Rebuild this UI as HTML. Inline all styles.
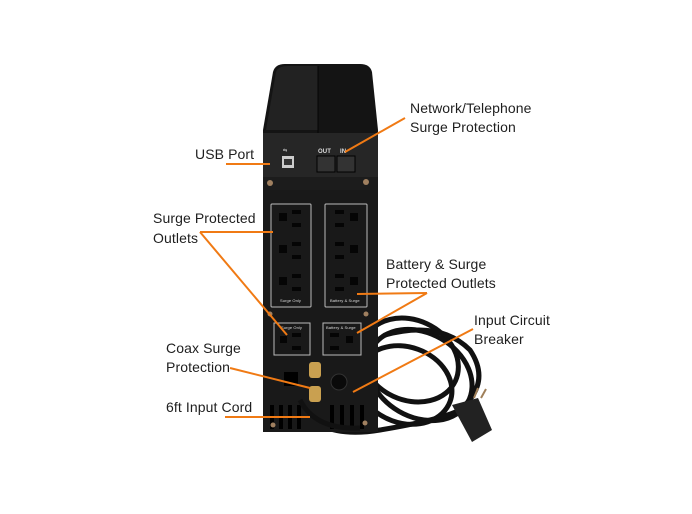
<!DOCTYPE html>
<html><head><meta charset="utf-8"><style>
html,body{margin:0;padding:0;background:#fff}
svg{display:block}
text{font-family:"Liberation Sans",sans-serif;font-size:14px;fill:#1e1e1e;letter-spacing:0.1px;font-weight:500}
</style></head><body>
<svg width="692" height="514" viewBox="0 0 692 514">
<!-- cord loops -->
<g fill="none" stroke="#111" stroke-width="5" stroke-linecap="round">
<ellipse cx="410" cy="360" rx="50" ry="40" transform="rotate(25 410 360)"/>
<ellipse cx="420" cy="375" rx="55" ry="42" transform="rotate(30 420 375)"/>
<ellipse cx="405" cy="385" rx="48" ry="38" transform="rotate(20 405 385)"/>
<path d="M300 405 Q320 440 380 430 Q440 420 460 410"/>
<path d="M385 335 Q440 320 470 350 Q490 380 465 405"/>
</g>
<path d="M452 405 L478 398 L492 430 L472 442 Z" fill="#222"/>
<path d="M474 398 L478 388 M481 398 L486 389" stroke="#a0805a" stroke-width="2"/>
<!-- device body -->
<path d="M273 72 Q275 64 285 64 L360 64 Q370 64 372 72 L378 130 L378 432 L263 432 L263 130 Z" fill="#141414"/>
<path d="M276 72 Q278 66 288 66 L318 66 L318 130 L266 130 Z" fill="#222"/>
<line x1="318" y1="66" x2="318" y2="133" stroke="#050505" stroke-width="1"/>
<rect x="263" y="133" width="115" height="44" fill="#262626"/>
<rect x="263" y="177" width="115" height="13" fill="#1c1c1c"/>
<circle cx="270" cy="183" r="3" fill="#a08060"/><circle cx="366" cy="182" r="3" fill="#a08060"/>
<rect x="263" y="190" width="115" height="242" fill="#191919"/>
<!-- usb -->
<rect x="282" y="156" width="12" height="12" fill="#ccc"/><rect x="284" y="159" width="8" height="6" fill="#333"/>
<text x="283" y="152" style="font-size:5px;fill:#ccc">⇆</text>
<!-- rj ports -->
<text x="318" y="153" style="font-size:6px;fill:#ddd;font-weight:bold">OUT</text>
<text x="340" y="153" style="font-size:6px;fill:#ddd;font-weight:bold">IN</text>
<rect x="317" y="156" width="18" height="16" fill="#333" stroke="#000"/>
<rect x="337" y="156" width="18" height="16" fill="#333" stroke="#000"/>
<!-- outlet panels -->
<g fill="none" stroke="#bbb" stroke-width="1">
<rect x="271" y="204" width="40" height="103" rx="1"/>
<rect x="325" y="204" width="42" height="103" rx="1"/>
<rect x="274" y="323" width="36" height="32"/>
<rect x="323" y="323" width="38" height="32"/>
</g>
<g fill="#050505">
<rect x="279" y="213" width="8" height="8"/><rect x="292" y="210" width="9" height="4"/><rect x="292" y="223" width="9" height="4"/>
<rect x="279" y="245" width="8" height="8"/><rect x="292" y="242" width="9" height="4"/><rect x="292" y="255" width="9" height="4"/>
<rect x="279" y="277" width="8" height="8"/><rect x="292" y="274" width="9" height="4"/><rect x="292" y="287" width="9" height="4"/>
<rect x="350" y="213" width="8" height="8"/><rect x="335" y="210" width="9" height="4"/><rect x="335" y="223" width="9" height="4"/>
<rect x="350" y="245" width="8" height="8"/><rect x="335" y="242" width="9" height="4"/><rect x="335" y="255" width="9" height="4"/>
<rect x="350" y="277" width="8" height="8"/><rect x="335" y="274" width="9" height="4"/><rect x="335" y="287" width="9" height="4"/>
<rect x="280" y="336" width="7" height="7"/><rect x="292" y="333" width="9" height="4"/><rect x="292" y="346" width="9" height="4"/>
<rect x="346" y="336" width="7" height="7"/><rect x="330" y="333" width="9" height="4"/><rect x="330" y="346" width="9" height="4"/>
</g>
<text x="280" y="302" style="font-size:4px;fill:#ddd">Surge Only</text><text x="330" y="302" style="font-size:4px;fill:#ddd">Battery &amp; Surge</text>
<text x="281" y="329" style="font-size:4px;fill:#ddd">Surge Only</text><text x="326" y="329" style="font-size:4px;fill:#ddd">Battery &amp; Surge</text>
<circle cx="270" cy="314" r="2.5" fill="#a08060"/><circle cx="366" cy="314" r="2.5" fill="#a08060"/>
<!-- coax & breaker -->
<rect x="309" y="362" width="12" height="16" rx="3" fill="#c9a050"/>
<rect x="309" y="386" width="12" height="16" rx="3" fill="#c9a050"/>
<circle cx="339" cy="382" r="8" fill="#0a0a0a" stroke="#333"/>
<rect x="284" y="372" width="14" height="14" fill="#000"/>
<!-- vents -->
<g fill="#000"><rect x="270" y="405" width="4" height="24"/><rect x="279" y="405" width="4" height="24"/><rect x="288" y="405" width="4" height="24"/><rect x="297" y="405" width="4" height="24"/><rect x="330" y="405" width="4" height="24"/><rect x="340" y="405" width="4" height="24"/><rect x="350" y="405" width="4" height="24"/><rect x="360" y="405" width="4" height="24"/></g>
<circle cx="273" cy="425" r="2.5" fill="#a08060"/><circle cx="365" cy="423" r="2.5" fill="#a08060"/>
<path d="M300 400 Q315 430 360 428" fill="none" stroke="#111" stroke-width="5"/>
<!-- leader lines -->
<g stroke="#f07a14" stroke-width="2" fill="none">
<line x1="226" y1="164" x2="270" y2="164"/>
<line x1="405" y1="118" x2="345" y2="152"/>
<line x1="200" y1="232" x2="273" y2="232"/>
<line x1="200" y1="232" x2="287" y2="335"/>
<line x1="427" y1="293" x2="357" y2="294"/>
<line x1="427" y1="293" x2="357" y2="333"/>
<line x1="473" y1="329" x2="353" y2="392"/>
<line x1="230" y1="368" x2="310" y2="388"/>
<line x1="225" y1="417" x2="310" y2="417"/>
</g>
<!-- labels -->
<text x="195" y="159">USB Port</text>
<text x="410" y="113">Network/Telephone</text>
<text x="410" y="132">Surge Protection</text>
<text x="153" y="223">Surge Protected</text>
<text x="153" y="243">Outlets</text>
<text x="386" y="269">Battery &amp; Surge</text>
<text x="386" y="288">Protected Outlets</text>
<text x="474" y="325">Input Circuit</text>
<text x="474" y="344">Breaker</text>
<text x="166" y="353">Coax Surge</text>
<text x="166" y="372">Protection</text>
<text x="166" y="412">6ft Input Cord</text>
</svg>
</body></html>
